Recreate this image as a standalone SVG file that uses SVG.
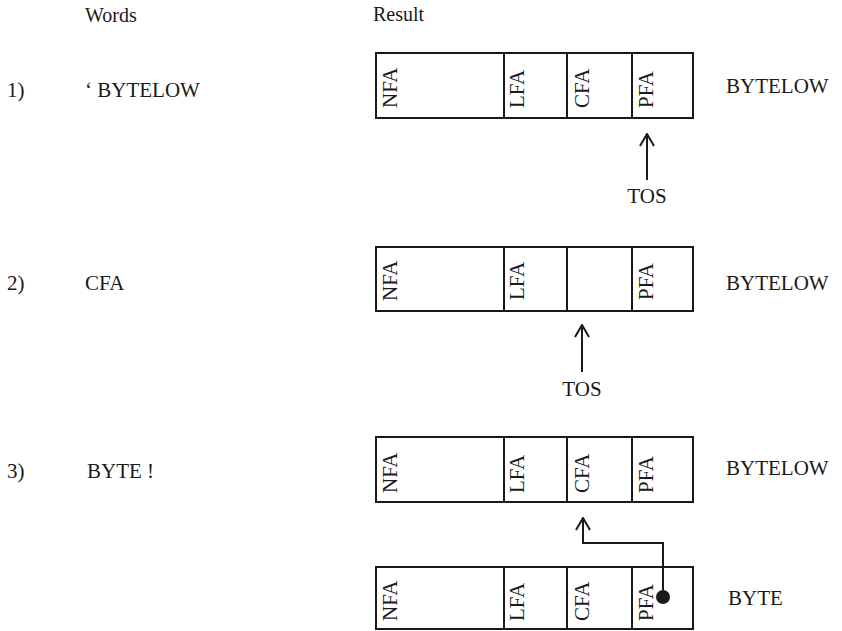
<svg xmlns="http://www.w3.org/2000/svg" width="842" height="631" viewBox="0 0 842 631">
<style>
text{font-family:"Liberation Serif","Times New Roman",serif;fill:#1a1a1a;font-size:21px}
.h{font-size:20px}
.v{font-size:21px}
.box{fill:none;stroke:#1a1a1a;stroke-width:2}
.ln{fill:none;stroke:#1a1a1a;stroke-width:2}
</style>
<defs>
<marker id="ah" viewBox="0 0 14 16" refX="13" refY="8" markerWidth="14" markerHeight="16" markerUnits="userSpaceOnUse" orient="auto">
<path d="M1,1 L13,8 L1,15" fill="none" stroke="#1a1a1a" stroke-width="2"/>
</marker>
</defs>
<rect width="842" height="631" fill="#fff"/>
<text class="h" x="85" y="22">Words</text>
<text class="h" x="373" y="21">Result</text>
<g id="row1">
<text x="7" y="97">1)</text>
<text x="85" y="97">‘ BYTELOW</text>
<text x="726" y="93">BYTELOW</text>
</g>
<g id="row2">
<text x="7" y="290">2)</text>
<text x="85" y="290">CFA</text>
<text x="726" y="290">BYTELOW</text>
</g>
<g id="row3">
<text x="7" y="478">3)</text>
<text x="87" y="478">BYTE !</text>
<text x="726" y="475">BYTELOW</text>
<text x="728" y="605">BYTE</text>
</g>
<g id="box1">
<rect class="box" x="376" y="53" width="317" height="65"/>
<path class="ln" d="M504,53V118M567,53V118M632,53V118"/>
<text class="v" transform="translate(397,108) rotate(-90)">NFA</text>
<text class="v" transform="translate(524,108) rotate(-90)">LFA</text>
<text class="v" transform="translate(589,108) rotate(-90)">CFA</text>
<text class="v" transform="translate(653,108) rotate(-90)">PFA</text>
</g>
<g id="box2">
<rect class="box" x="376" y="247" width="317" height="64"/>
<path class="ln" d="M504,247V311M567,247V311M632,247V311"/>
<text class="v" transform="translate(397,301) rotate(-90)">NFA</text>
<text class="v" transform="translate(524,300) rotate(-90)">LFA</text>
<text class="v" transform="translate(653,300) rotate(-90)">PFA</text>
</g>
<g id="box3">
<rect class="box" x="376" y="437" width="317" height="65"/>
<path class="ln" d="M504,437V502M567,437V502M632,437V502"/>
<text class="v" transform="translate(397,493) rotate(-90)">NFA</text>
<text class="v" transform="translate(524,493) rotate(-90)">LFA</text>
<text class="v" transform="translate(589,493) rotate(-90)">CFA</text>
<text class="v" transform="translate(653,493) rotate(-90)">PFA</text>
</g>
<g id="box4">
<rect class="box" x="376" y="567" width="317" height="62"/>
<path class="ln" d="M504,567V629M567,567V629M632,567V629"/>
<text class="v" transform="translate(397,621) rotate(-90)">NFA</text>
<text class="v" transform="translate(524,621) rotate(-90)">LFA</text>
<text class="v" transform="translate(589,621) rotate(-90)">CFA</text>
<text class="v" transform="translate(653,621) rotate(-90)">PFA</text>
</g>
<g id="tos1">
<text x="647" y="203" text-anchor="middle">TOS</text>
</g>
<g id="tos2">
<text x="582" y="396" text-anchor="middle">TOS</text>
</g>
<g id="connectors">
<path class="ln" d="M647,180V134" marker-end="url(#ah)"/>
<path class="ln" d="M582,372V325" marker-end="url(#ah)"/>
<path class="ln" d="M663,597V543H583V518" marker-end="url(#ah)"/>
<circle cx="663" cy="597" r="7" fill="#1a1a1a"/>
</g>
</svg>
